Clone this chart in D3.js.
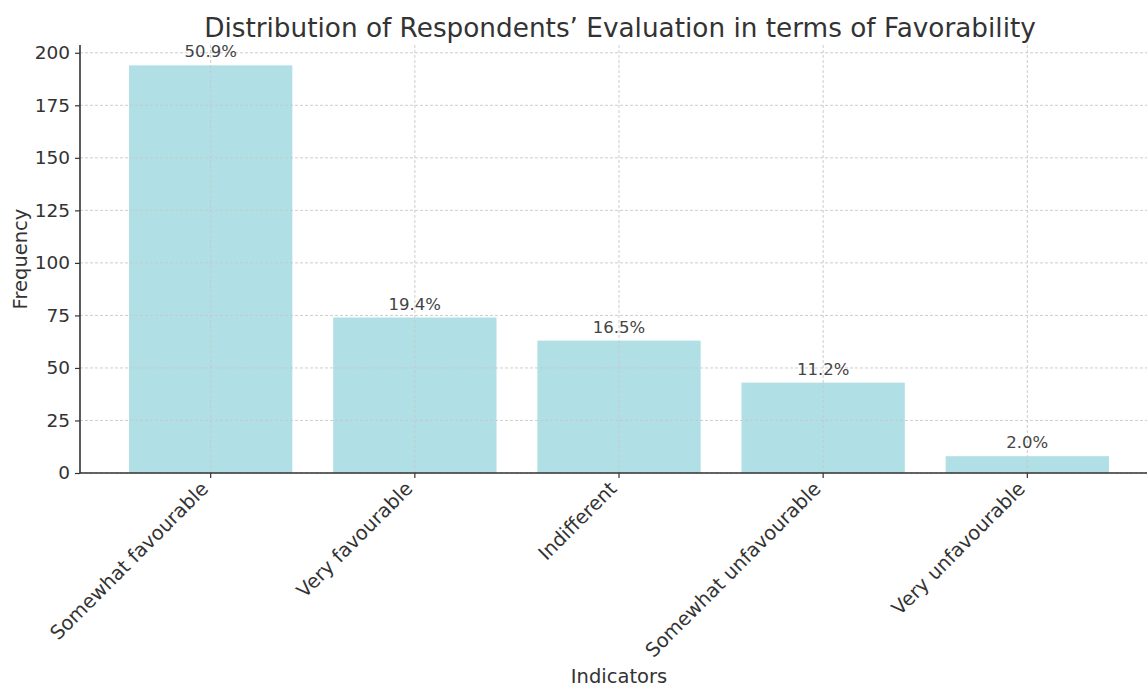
<!DOCTYPE html>
<html>
<head>
<meta charset="utf-8">
<script src="https://cdn.jsdelivr.net/npm/d3@7"></script>
<style>
  body { margin: 0; background: #fff; }
  svg { display: block; font-family: "DejaVu Sans", sans-serif; }
</style>
</head>
<body>
<div id="bar"><svg></svg></div>
<script>
// data
const categories = ['Somewhat favourable', 'Very favourable', 'Indifferent', 'Somewhat unfavourable', 'Very unfavourable'];
const frequencies = [194, 74, 63, 43, 8];
const percentLabels = ['50.9%', '19.4%', '16.5%', '11.2%', '2.0%'];
const yTicks = [0, 25, 50, 75, 100, 125, 150, 175, 200];

const width = 1147, height = 688;
// plot box (right edge runs past the window, as in the reference)
const margin = { top: 45, right: -11, bottom: 215, left: 80 };

const svg = d3.select('#bar').select('svg')
  .attr('width', width).attr('height', height);

const x = d3.scaleBand()
  .domain(categories)
  .range([margin.left, width - margin.right])
  .paddingInner(0.2)
  .paddingOuter(0.24);

const y = d3.scaleLinear()
  .domain([0, d3.max(frequencies) * 1.05])
  .range([height - margin.bottom, margin.top]);

const textColor = '#333';

// bars
svg.append('g').selectAll('rect')
  .data(frequencies).enter().append('rect')
  .attr('x', (d, i) => x(categories[i]))
  .attr('y', d => y(d))
  .attr('width', x.bandwidth())
  .attr('height', d => y(0) - y(d))
  .attr('fill', '#b0dfe5');

// grid (drawn above the bars)
const grid = svg.append('g')
  .attr('stroke', '#c8c8c8').attr('stroke-width', 0.9)
  .attr('stroke-dasharray', '3,2');
grid.selectAll('.hg').data(yTicks).enter().append('line')
  .attr('x1', margin.left).attr('x2', width - margin.right)
  .attr('y1', d => y(d)).attr('y2', d => y(d));
grid.selectAll('.vg').data(categories).enter().append('line')
  .attr('x1', d => x(d) + x.bandwidth() / 2).attr('x2', d => x(d) + x.bandwidth() / 2)
  .attr('y1', y.range()[0]).attr('y2', y.range()[1]);

// percentage labels
svg.append('g').selectAll('text')
  .data(frequencies).enter().append('text')
  .attr('x', (d, i) => x(categories[i]) + x.bandwidth() / 2)
  .attr('y', d => y(d) - 8)
  .attr('text-anchor', 'middle')
  .attr('font-size', 16.5)
  .attr('fill', '#444')
  .text((d, i) => percentLabels[i]);

// y axis
const gy = svg.append('g')
  .attr('transform', `translate(${margin.left},0)`)
  .call(d3.axisLeft(y).tickValues(yTicks).tickSize(5).tickPadding(5));
gy.select('.domain').attr('stroke', textColor).attr('stroke-width', 1.6)
  .attr('d', `M0,${y.range()[0]}V${y.range()[1]}`);
gy.selectAll('.tick line').attr('stroke', textColor).attr('stroke-width', 1.2);
gy.selectAll('.tick text').attr('font-size', 18.5).attr('fill', textColor)
  .attr('font-family', '"DejaVu Sans", sans-serif');

// x axis
const gx = svg.append('g')
  .attr('transform', `translate(0,${y(0)})`)
  .call(d3.axisBottom(x).tickSize(5).tickPadding(4));
gx.select('.domain').attr('stroke', textColor).attr('stroke-width', 1.6)
  .attr('d', `M${margin.left},0H${width - margin.right}`);
gx.selectAll('.tick line').attr('stroke', textColor).attr('stroke-width', 1.2);
gx.selectAll('.tick text')
  .attr('font-size', 19.5).attr('fill', textColor)
  .attr('font-family', '"DejaVu Sans", sans-serif')
  .attr('text-anchor', 'end')
  .attr('dy', null).attr('y', 0)
  .attr('transform', 'translate(-5,13) rotate(-45)')
  .attr('dominant-baseline', 'middle');

// titles
svg.append('text')
  .attr('x', 620).attr('y', 37)
  .attr('text-anchor', 'middle')
  .attr('font-size', 26.3).attr('fill', textColor)
  .text('Distribution of Respondents\u2019 Evaluation in terms of Favorability');

svg.append('text')
  .attr('x', 619).attr('y', 683)
  .attr('text-anchor', 'middle')
  .attr('font-size', 19.5).attr('fill', textColor)
  .text('Indicators');

svg.append('text')
  .attr('transform', `translate(27,${(y.range()[0] + y.range()[1]) / 2}) rotate(-90)`)
  .attr('text-anchor', 'middle')
  .attr('font-size', 19.5).attr('fill', textColor)
  .text('Frequency');
</script>
</body>
</html>
